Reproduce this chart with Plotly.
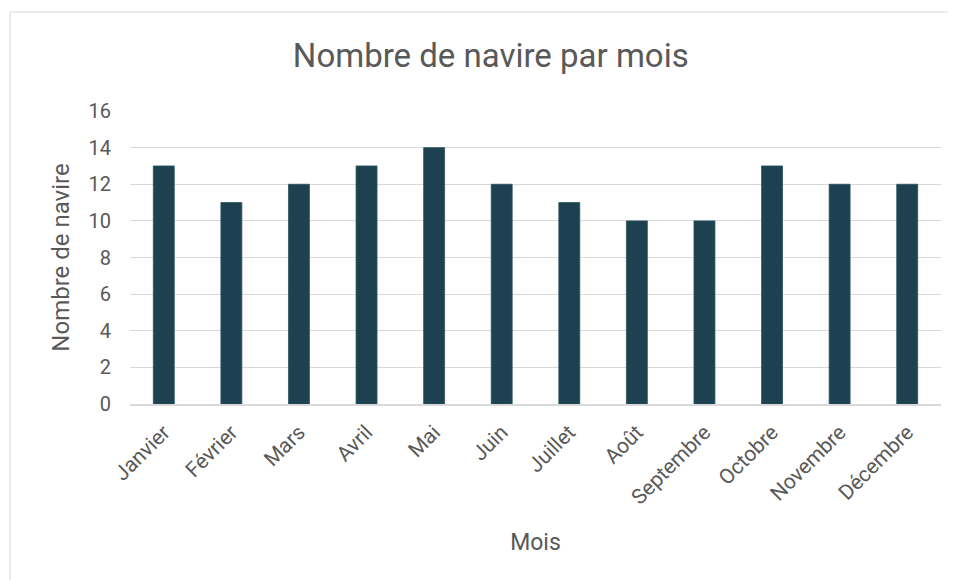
import plotly.graph_objects as go

months = ["Janvier", "Février", "Mars", "Avril", "Mai", "Juin", "Juillet",
          "Août", "Septembre", "Octobre", "Novembre", "Décembre"]
ships = [13, 11, 12, 13, 14, 12, 11, 10, 10, 13, 12, 12]

font_family = "Roboto, Liberation Sans, sans-serif"
grey = "#595959"

fig = go.Figure(go.Bar(x=months, y=ships,
                       marker=dict(color="#1d4150", line=dict(color="#2a5462", width=0.8))))

fig.update_layout(
    width=956, height=580,
    paper_bgcolor="white", plot_bgcolor="white",
    margin=dict(l=122, r=23, t=103, b=184),
    bargap=0.69,
    showlegend=False,
    font=dict(family=font_family, color=grey),
    title=dict(text="Nombre de navire par mois", x=0.505, xanchor="center",
               y=0.919, yanchor="middle", font=dict(size=33, color=grey)),
    xaxis=dict(tickangle=-45, tickfont=dict(size=21, color=grey),
               showline=True, linecolor="#d9d9d9", linewidth=1.5,
               ticklabelstandoff=6,
               title=dict(text="Mois", font=dict(size=23, color=grey), standoff=26),
               ticks=""),
    yaxis=dict(range=[0, 16], dtick=2, tickfont=dict(size=20, color=grey),
               gridcolor="#d9d9d9", gridwidth=1, zeroline=False,
               ticklabelstandoff=18,
               title=dict(text="Nombre de navire", font=dict(size=24, color=grey), standoff=12)),
    shapes=[dict(type="rect", xref="paper", yref="paper",
                 x0=-0.148, x1=1.2, y0=-1.0, y1=1.338,
                 line=dict(color="#d9d9d9", width=1), fillcolor="rgba(0,0,0,0)", layer="below")],
)

fig.write_html("out.html")
